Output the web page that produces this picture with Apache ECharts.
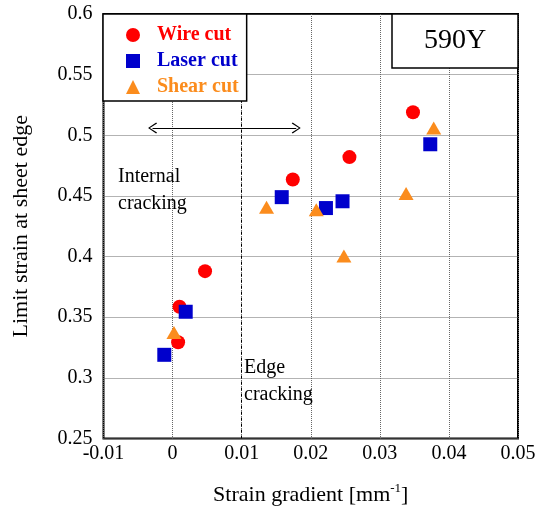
<!DOCTYPE html>
<html>
<head>
<meta charset="utf-8">
<script src="https://cdn.jsdelivr.net/npm/echarts@6/dist/echarts.min.js"></script>
<style>
  html, body { margin: 0; padding: 0; background: #fff; }
  #chart { width: 540px; height: 511px; }
</style>
</head>
<body>
<div id="chart"></div>
<script>
// data: [strain gradient, limit strain]
const wireCut = [
  [0.0348, 0.519], [0.0256, 0.482], [0.0174, 0.4636], [0.0047, 0.388],
  [0.0010, 0.3586], [0.0008, 0.3293]
];
const laserCut = [
  [0.0373, 0.4926], [0.0158, 0.449], [0.0222, 0.440], [0.0246, 0.4456],
  [0.0019, 0.3545], [-0.0012, 0.319]
];
const shearCut = [
  [0.0378, 0.506], [0.0136, 0.4406], [0.0208, 0.4387], [0.0338, 0.452],
  [0.0248, 0.4005], [0.0002, 0.3375]
];
const boundaryX = 0.0078;
const arrowSpan = [[-0.0029, 0.506], [0.0179, 0.506]];

const RED = "#ff0000";
const BLUE = "#0000cc";
const ORANGE = "#fb8c1d";
const SERIF = "'Liberation Serif', 'Times New Roman', serif";
const CHEVRON = "path://M5,0 L10,9 L9,10 L5,2 L1,10 L0,9 Z";

const chart = echarts.init(document.getElementById("chart"));

const option = {
  animation: false,
  grid: {
    left: 103.5,
    right: 22,
    top: 14,
    bottom: 70.3,
    show: true,
    borderColor: "#000",
    borderWidth: 2,
    backgroundColor: "transparent",
  },
  legend: {
    left: 103,
    top: 14,
    orient: "vertical",
    backgroundColor: "#fff",
    borderColor: "#000",
    borderWidth: 1.5,
    borderRadius: 0,
    padding: [11, 8, 4, 23],
    itemWidth: 14,
    itemHeight: 14,
    itemGap: 6,
    symbolKeepAspect: true,
    textStyle: {
      fontFamily: SERIF,
      fontSize: 20,
      fontWeight: "bold",
      lineHeight: 20,
      padding: [0, 0, 0, 12],
    },
    data: [
      { name: "Wire cut", textStyle: { color: RED } },
      { name: "Laser cut", textStyle: { color: BLUE } },
      { name: "Shear cut", textStyle: { color: ORANGE } },
    ],
    z: 10,
  },
  xAxis: {
    type: "value",
    min: -0.01,
    max: 0.05,
    interval: 0.01,
    name: "Strain gradient [mm{sup|-1}]",
    nameLocation: "middle",
    nameGap: 44,
    nameTextStyle: {
      fontFamily: SERIF,
      fontSize: 22,
      color: "#000",
      rich: {
        sup: { fontFamily: SERIF, fontSize: 13, color: "#000", padding: [0, 0, 12, 0] },
      },
    },
    axisLine: { show: false },
    axisTick: { show: false },
    axisLabel: {
      fontFamily: SERIF,
      fontSize: 20,
      color: "#000",
      margin: 5,
      formatter: (v) => String(+v.toFixed(3)),
    },
    splitLine: { show: true, lineStyle: { color: "#666", type: [1, 1], width: 1 } },
  },
  yAxis: {
    type: "value",
    min: 0.25,
    max: 0.6,
    interval: 0.05,
    name: "Limit strain at sheet edge",
    nameLocation: "middle",
    nameGap: 71,
    nameTextStyle: { fontFamily: SERIF, fontSize: 22, color: "#000" },
    axisLine: { show: false },
    axisTick: { show: false },
    axisLabel: {
      fontFamily: SERIF,
      fontSize: 20,
      color: "#000",
      margin: 11,
      formatter: (v) => String(+v.toFixed(3)),
    },
    splitLine: { show: true, lineStyle: { color: "#666", type: [1, 1], width: 1 } },
  },
  series: [
    {
      name: "Wire cut",
      type: "scatter",
      symbol: "circle",
      symbolSize: 14,
      itemStyle: { color: RED, opacity: 1 },
      data: wireCut,
      z: 3,
      markLine: {
        silent: true,
        symbol: ["none", "none"],
        label: { show: false },
        lineStyle: { color: "#000", type: [3, 3], width: 1 },
        data: [{ xAxis: boundaryX }],
      },
    },
    {
      name: "Laser cut",
      type: "scatter",
      symbol: "rect",
      symbolSize: 14,
      itemStyle: { color: BLUE, opacity: 1 },
      data: laserCut,
      z: 4,
      markLine: {
        silent: true,
        symbol: [CHEVRON, CHEVRON],
        symbolSize: [11, 9],
        label: { show: false },
        lineStyle: { color: "#000", type: "solid", width: 1 },
        data: [[{ coord: arrowSpan[0] }, { coord: arrowSpan[1] }]],
      },
    },
    {
      name: "Shear cut",
      type: "scatter",
      symbol: "triangle",
      symbolSize: [15, 13],
      itemStyle: { color: ORANGE, opacity: 1 },
      data: shearCut,
      z: 5,
    },
  ],
  graphic: [
    {
      type: "rect",
      shape: { x: 392, y: 14, width: 126, height: 54 },
      style: { fill: "#fff", stroke: "#000", lineWidth: 1.5 },
      z: 10,
    },
    {
      type: "text",
      x: 455,
      y: 41,
      style: {
        text: "590Y",
        font: "28px " + SERIF,
        fill: "#000",
        textAlign: "center",
        textVerticalAlign: "middle",
      },
      z: 11,
    },
    {
      type: "text",
      x: 118,
      y: 190,
      style: {
        text: "Internal\ncracking",
        font: "20px " + SERIF,
        lineHeight: 27,
        fill: "#000",
        textAlign: "left",
        textVerticalAlign: "middle",
      },
      z: 2,
    },
    {
      type: "text",
      x: 244,
      y: 381,
      style: {
        text: "Edge\ncracking",
        font: "20px " + SERIF,
        lineHeight: 27,
        fill: "#000",
        textAlign: "left",
        textVerticalAlign: "middle",
      },
      z: 2,
    },
  ],
};

chart.setOption(option);
window.addEventListener("resize", () => chart.resize());
</script>
</body>
</html>
